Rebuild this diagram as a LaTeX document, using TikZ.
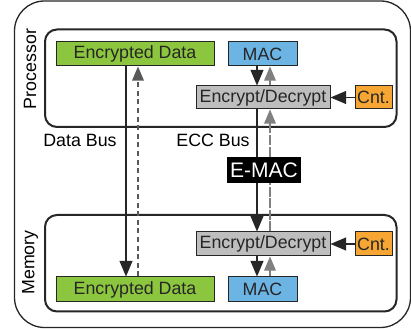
\documentclass[tikz,border=0pt]{standalone}
\usepackage{fontspec}
\setmainfont{Liberation Sans}
\usepackage{xcolor}
\usetikzlibrary{arrows}

\definecolor{dgreen}{RGB}{140,198,63}
\definecolor{mblue}{RGB}{108,180,228}
\definecolor{egray}{RGB}{190,190,190}
\definecolor{corange}{RGB}{247,166,51}

\begin{document}
\begin{tikzpicture}[x=0.5pt,y=-0.5pt,
    font=\fontsize{8.9}{10}\selectfont,
    blk/.style={draw=black!85,line width=0.5pt,inner sep=0pt,minimum height=12pt,text=black!85},
    frame/.style={draw=black!85,line width=1pt,rounded corners=6pt},
    bus/.style={black!85,line width=0.8pt},
    ret/.style={gray,line width=0.6pt}]
\useasboundingbox (0,0) rectangle (411,330);
\begin{scope}[>=triangle 45]
    % outer and inner frames
    \draw[black!85,line width=0.65pt,rounded corners=15pt] (14.5,1) rectangle (410.5,327.5);
    \draw[frame] (45,29.5) rectangle (396.5,127);
    \draw[frame] (45,215) rectangle (396.5,311.5);

    \node[rotate=90] (proc) at (30,69) {Processor};
    \node[rotate=90] (mem) at (30,262.5) {Memory};

    % processor side
    \node[blk,fill=dgreen,minimum width=79pt] (pdata) at (135,54) {Encrypted Data};
    \node[blk,fill=mblue,minimum width=34.5pt] (pmac) at (262.5,54) {MAC};
    \node[blk,fill=egray,minimum width=67pt,minimum height=11.5pt] (penc) at (263,97.5) {Encrypt/Decrypt};
    \node[blk,fill=corange,minimum width=18.5pt,minimum height=11.5pt] (pcnt) at (373.5,97.5) {Cnt.};

    % memory side
    \node[blk,fill=egray,minimum width=67pt] (menc) at (263,244) {Encrypt/Decrypt};
    \node[blk,fill=corange,minimum width=18.5pt] (mcnt) at (373.5,244) {Cnt.};
    \node[blk,fill=dgreen,minimum width=79pt,minimum height=12.5pt] (mdata) at (135,289.5) {Encrypted Data};
    \node[blk,fill=mblue,minimum width=34.5pt,minimum height=12.5pt] (mmac) at (262.5,289.5) {MAC};

    \node[fill=black,text=white,inner sep=0pt,minimum width=37pt,minimum height=13pt,
          font=\fontsize{10.5}{12}\selectfont] (emac) at (264,170) {E-MAC};

    \node (dlabel) at (80,140) {Data Bus};
    \node (elabel) at (213,140) {ECC Bus};

    \coordinate (dbus) at (126,0);
    \coordinate (dret) at (138,0);
    \coordinate (ebus) at (257,0);
    \coordinate (eret) at (270,0);

    % data bus
    \draw[bus,->] (pdata.south -| dbus) -- (mdata.north -| dbus);
    \draw[ret,black!65,dash pattern=on 2.5pt off 1.8pt,->] (mdata.north -| dret) -- (pdata.south -| dret);

    % ECC bus
    \draw[bus,->] (pmac.south -| ebus) -- (penc.north -| ebus);
    \draw[bus] (penc.south -| ebus) -- (emac.north -| ebus);
    \draw[bus,->] (emac.south -| ebus) -- (menc.north -| ebus);
    \draw[bus,->] (menc.south -| ebus) -- (mmac.north -| ebus);

    \draw[ret,->] (mmac.north -| eret) -- (menc.south -| eret);
    \draw[ret,dash pattern=on 5pt off 0.8pt] (menc.north -| eret) -- (emac.south -| eret);
    \draw[ret,dash pattern=on 5pt off 0.8pt,->] (emac.north -| eret) -- (penc.south -| eret);
    \draw[ret,->] (penc.north -| eret) -- (pmac.south -| eret);

    % counters
    \draw[bus,->] (pcnt) -- (penc);
    \draw[bus,->] (mcnt) -- (menc);
\end{scope}
\end{tikzpicture}
\end{document}
